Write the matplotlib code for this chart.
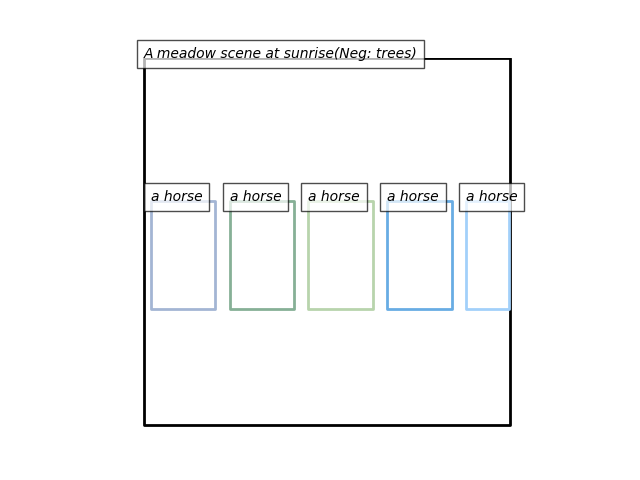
import matplotlib
matplotlib.use("Agg")
import matplotlib.pyplot as plt
import numpy as np
from matplotlib.patches import Polygon
from matplotlib.collections import PatchCollection

# layout data (512x512 canvas)
bg_prompt = "A meadow scene at sunrise"
neg_prompt = "trees"
names = ["a horse", "a horse", "a horse", "a horse", "a horse"]
box_x = [10, 120, 230, 340, 450]
box_y = [200, 200, 200, 200, 200]
box_w = [90, 90, 90, 90, 60]
box_h = [150, 150, 150, 150, 150]
box_colors = ["#a3b5d4", "#86b096", "#b8d4ac", "#68ace4", "#a2d0fa"]
size = (512, 512)

fig = plt.figure(figsize=(6.4, 4.8), dpi=100)
I = np.ones((size[0] + 4, size[1] + 4, 3), dtype=np.uint8) * 255
plt.imshow(I)
plt.axis("off")
ax = plt.gca()

polygons = []
colors = []

ax.text(0, 0, bg_prompt + f"(Neg: {neg_prompt})", style="italic",
        bbox={"facecolor": "white", "alpha": 0.7, "pad": 5})
x, y, w, h = 0, 0, size[1], size[0]
poly = [[x, y], [x, y + h], [x + w, y + h], [x + w, y]]
polygons.append(Polygon(np.array(poly).reshape((4, 2))))
colors.append("black")

for name, x, y, w, h, c in zip(names, box_x, box_y, box_w, box_h, box_colors):
    poly = [[x, y], [x, y + h], [x + w, y + h], [x + w, y]]
    polygons.append(Polygon(np.array(poly).reshape((4, 2))))
    colors.append(c)
    ax.text(x, y, name, style="italic",
            bbox={"facecolor": "white", "alpha": 0.7, "pad": 5})

p = PatchCollection(polygons, facecolor="none", edgecolors=colors, linewidths=2)
ax.add_collection(p)

plt.savefig("out.png")
